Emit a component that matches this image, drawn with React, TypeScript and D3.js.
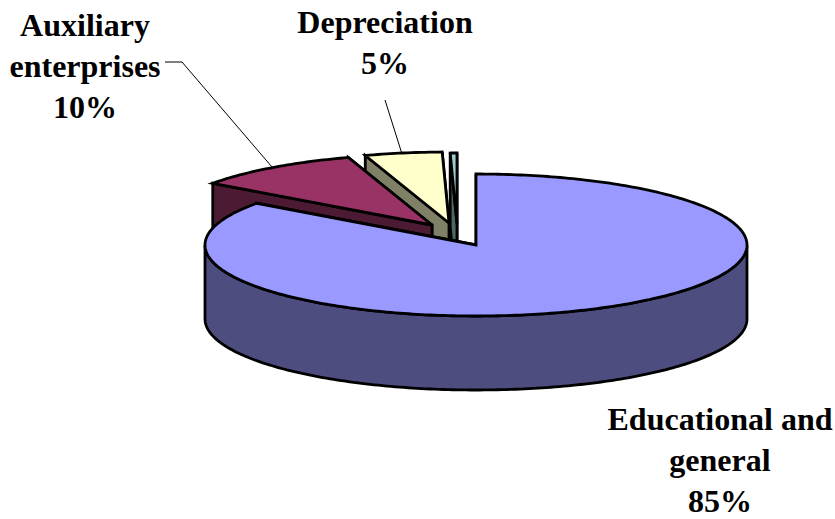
import * as d3 from 'd3';
import React from 'react';

const categories = ['Educational and general', 'Auxiliary enterprises', 'Depreciation', 'Other'];
const values = [85, 10, 4.6, 0.4];
const topColors = ['#9999FF', '#993366', '#FFFFCC', '#99CCCC'];
const wallColors = ['#4D4D80', '#4D1A33', '#808066', '#4D6666'];
// how far each slice is pulled out of the pie, in screen pixels
const explode = [[0, 0], [-44, -20], [-27, -22], [-19, -21]];

const width = 835;
const height = 519;
const cx = 476;
const cy = 245;
const rx = 271;
const ry = 71;
const depth = 74;

const pie = d3.pie<number>().sort(null)(values);

const line = d3.line<[number, number]>();

const Slice = ({ i }: { i: number }) => {
    const s = pie[i];
    const [ox, oy] = explode[i];
    const px = (a: number): [number, number] => [cx + ox + rx * Math.sin(a), cy + oy - ry * Math.cos(a)];
    const apex: [number, number] = [cx + ox, cy + oy];
    const down = (p: [number, number]): [number, number] => [p[0], p[1] + depth];

    const n = Math.max(4, Math.ceil((s.endAngle - s.startAngle) * 60));
    const arcPts = d3.range(n + 1).map(k => px(s.startAngle + ((s.endAngle - s.startAngle) * k) / n));
    const first = arcPts[0];
    const last = arcPts[n];

    const top = line([apex, ...arcPts]) + 'Z';
    const wallA = line([apex, first, down(first), down(apex)]) + 'Z';
    const wallB = line([apex, last, down(last), down(apex)]) + 'Z';

    // only the part of the rim facing the viewer (lower half of the ellipse) is visible
    const front = arcPts.filter(p => p[1] >= cy + oy);
    const rim = front.length > 1 ? line([...front, ...front.slice().reverse().map(down)]) + 'Z' : null;

    const common = { stroke: '#000', strokeWidth: 2.8, strokeLinejoin: 'miter' as const };
    return (
        <g>
            <path d={wallB} fill={wallColors[i]} {...common} />
            <path d={wallA} fill={wallColors[i]} {...common} />
            {rim && <path d={rim} fill={wallColors[i]} {...common} />}
            <path d={top} fill={topColors[i]} {...common} />
        </g>
    );
};

const labels = [
    { lines: ['Educational and', 'general', '85%'], x: 720, y: 430 },
    { lines: ['Auxiliary', 'enterprises', '10%'], x: 85, y: 36 },
    { lines: ['Depreciation', '5%'], x: 385, y: 33 },
];

const leaders: [number, number][][] = [
    [[272, 167], [182, 62], [165, 62]],
    [[402, 154], [385, 100]],
];

const App: React.FC = () => (
    <svg
        width={width}
        height={height}
        style={{ position: 'absolute', left: 0, top: 0, background: '#fff' }}
        aria-label={categories.join(', ')}
    >
        {[3, 2, 1, 0].map(i => (
            <Slice key={i} i={i} />
        ))}
        {leaders.map((l, i) => (
            <path key={i} d={line(l)!} fill="none" stroke="#000" strokeWidth={1} />
        ))}
        {labels.map((l, i) => (
            <text
                key={i}
                textAnchor="middle"
                fontFamily="'Liberation Serif', serif"
                fontWeight="bold"
                fontSize={32}
                fill="#000"
            >
                {l.lines.map((t, k) => (
                    <tspan key={k} x={l.x} y={l.y + k * 41}>
                        {t}
                    </tspan>
                ))}
            </text>
        ))}
    </svg>
);

export default App;
